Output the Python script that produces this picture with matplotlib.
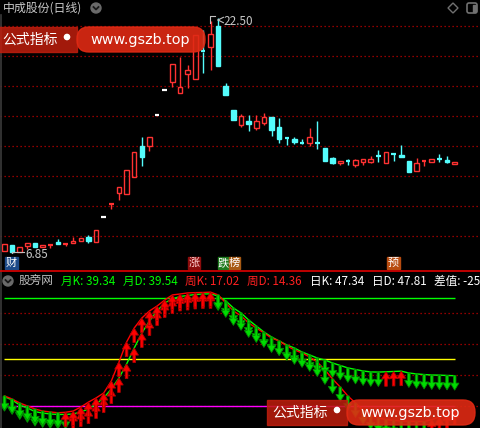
import matplotlib
matplotlib.use("Agg")
import matplotlib.pyplot as plt
from matplotlib.patches import Rectangle, Polygon, FancyBboxPatch, Circle

plt.rcParams['font.family'] = ['Noto Sans CJK SC', 'DejaVu Sans']

W, H = 480, 428

# daily candles
opens = [6.98, 7.38, 6.92, 7.32, 7.52, 7.25, 7.38, 7.58, 7.45, 7.52,
         7.65, 7.92, 7.58, 9.25, 10.11, 10.85, 10.78, 11.91, 13.98, 13.98,
         16.04, 17.70, 18.24, 17.50, 18.77, 18.44, 20.30, 20.57, 21.97, 17.97,
         16.37, 15.37, 15.64, 15.17, 15.51, 15.91, 15.24, 14.52, 14.44, 14.18,
         14.17, 14.18, 13.84, 13.18, 12.84, 12.99, 12.71, 12.91, 12.91, 13.33,
         12.84, 13.45, 13.38, 12.98, 12.31, 12.97, 12.91, 13.12, 13.04, 12.78]
highs = [7.48, 7.40, 7.28, 7.52, 7.52, 7.38, 7.45, 7.79, 7.52, 7.92,
         7.85, 8.05, 8.38, 9.25, 10.18, 11.24, 12.38, 13.58, 14.57, 14.57,
         16.04, 17.70, 19.44, 19.90, 19.37, 21.37, 21.70, 22.30, 22.50, 18.17,
         16.40, 16.11, 16.04, 16.04, 16.17, 15.91, 15.84, 14.57, 14.57, 14.44,
         15.17, 15.64, 13.84, 13.24, 12.98, 13.11, 13.11, 13.11, 13.31, 13.71,
         13.58, 13.45, 14.04, 12.98, 13.18, 12.99, 13.11, 13.44, 13.31, 12.91]
lows = [6.95, 6.85, 6.90, 7.11, 7.25, 7.25, 7.18, 7.45, 7.32, 7.52,
        7.65, 7.52, 7.58, 9.25, 9.78, 10.38, 10.78, 11.91, 12.64, 13.64,
        16.04, 17.70, 17.90, 17.50, 17.84, 18.44, 18.84, 19.04, 19.30, 17.37,
        15.68, 15.24, 14.97, 15.04, 15.37, 14.64, 14.17, 14.04, 14.11, 14.11,
        13.98, 13.78, 12.98, 12.78, 12.71, 12.71, 12.58, 12.71, 12.84, 12.91,
        12.84, 12.98, 13.24, 12.24, 12.31, 12.64, 12.91, 12.91, 12.84, 12.78]
closes = [7.45, 6.92, 7.25, 7.52, 7.25, 7.38, 7.43, 7.45, 7.50, 7.65,
          7.85, 7.65, 8.38, 9.25, 10.16, 11.24, 12.38, 13.58, 13.24, 14.57,
          16.04, 17.70, 19.44, 17.90, 19.04, 21.37, 20.26, 21.43, 19.30, 17.37,
          15.71, 15.97, 15.44, 15.64, 15.91, 15.04, 14.44, 14.50, 14.24, 14.16,
          14.57, 14.16, 12.98, 12.84, 12.96, 12.97, 13.04, 13.11, 13.11, 13.31,
          13.58, 13.43, 13.24, 12.24, 12.84, 12.99, 13.11, 13.10, 12.91, 12.91]
price_grid = [8, 10, 12, 14, 16, 18, 20, 22]

# indicator: monthly line (green) and weekly line (red)
month_k = [25.7, 23.6, 20.3, 18.4, 16.0, 15.1, 14.5, 14.2, 14.2, 14.5,
           15.8, 17.7, 21.0, 24.9, 30.7, 37.9, 46.9, 57.3, 67.1, 74.9,
           81.4, 86.6, 89.2, 90.8, 91.4, 92.1, 92.4, 92.5, 91.1, 87.9,
           83.3, 80.1, 75.5, 71.6, 67.7, 64.5, 61.9, 59.3, 57.3, 54.7,
           52.8, 50.8, 49.5, 47.6, 46.0, 44.4, 43.4, 42.4, 41.8, 41.7,
           41.9, 42.1, 42.3, 41.1, 40.5, 40.1, 39.8, 39.7, 39.5, 39.34]
week_k = [26.2, 24.2, 21.6, 19.7, 17.7, 16.4, 15.8, 15.3, 15.6, 16.4,
          19.0, 22.2, 24.9, 28.1, 35.9, 48.2, 61.2, 70.3, 76.8, 81.4,
          84.6, 88.5, 91.8, 92.4, 93.1, 93.3, 93.4, 93.6, 91.8, 86.6,
          81.4, 78.2, 73.6, 70.3, 67.1, 63.8, 61.9, 58.7, 56.1, 54.1,
          51.5, 48.2, 43.1, 37.2, 32.0, 26.2, 21.6, 17.1, 13.8, 11.9,
          10.9, 10.3, 9.9, 9.8, 9.7, 9.6, 10.8, 12.5, 14.7, 17.0]
ind_grid = [20, 40, 60, 80]
ind_levels = [(90, '#00ff00'), (50, '#ffff00'), (20, '#ff00ff')]

header = [("股旁网", 19, '#c0c0c0'),
          ("月K: 39.34", 61, '#00ff00'), ("月D: 39.54", 123, '#00ff00'),
          ("周K: 17.02", 185, '#ff2020'), ("周D: 14.36", 247, '#ff2020'),
          ("日K: 47.34", 310, '#ffffff'), ("日D: 47.81", 372, '#ffffff'),
          ("差值: -25.47", 434, '#ffffff')]

UP = '#ff3232'
DOWN = '#54fcfc'
n = len(opens)
X0, DX = 4.5, 7.63


def rect(x0, y0, x1, y1):
    return [x0 / W, 1 - y1 / H, (x1 - x0) / W, (y1 - y0) / H]


def price_at(y):
    return 22.50 - (y - 18) * 0.0666


def ind_at(y):
    return 50 - (y - 359.3) / 1.54


fig = plt.figure(figsize=(W / 100, H / 100), dpi=100, facecolor='black')
xlim = ((0 - X0) / DX, (W - X0) / DX)

# ---- price panel
ax = fig.add_axes(rect(0, 15, W, 268))
ax.set_facecolor('black')
ax.set_xlim(*xlim)
ax.set_ylim(price_at(268), price_at(15))
ax.axis('off')
for p in price_grid:
    ax.axhline(p, color='#c00000', lw=0.9, ls=(0, (1, 2.2)), zorder=1)

bw = 0.3
for i in range(n):
    o, h, l, c = opens[i], highs[i], lows[i], closes[i]
    if c > o:
        col = UP
    elif c < o:
        col = DOWN
    else:
        col = 'white'
    lo, hi = min(o, c), max(o, c)
    ax.vlines(i, l, lo, color=col, lw=1, zorder=2)
    ax.vlines(i, hi, h, color=col, lw=1, zorder=2)
    if hi - lo < 0.1:
        ax.hlines((o + c) / 2, i - bw, i + bw, color=col, lw=1.6, zorder=3)
    elif col == UP:
        ax.add_patch(Rectangle((i - bw, lo), 2 * bw, hi - lo, fill=False,
                               edgecolor=col, lw=1, zorder=3))
    else:
        ax.add_patch(Rectangle((i - bw, lo), 2 * bw, hi - lo, facecolor=col,
                               edgecolor=col, lw=1, zorder=3))

# ---- indicator panel
ax2 = fig.add_axes(rect(0, 290, W, H))
ax2.set_facecolor('black')
ax2.set_xlim(*xlim)
ax2.set_ylim(ind_at(H), ind_at(290))
ax2.axis('off')
for g in ind_grid:
    ax2.axhline(g, color='#c00000', lw=0.9, ls=(0, (1, 2.2)), zorder=1)
for lv, col in ind_levels:
    ax2.hlines(lv, 0, n - 1, color=col, lw=1, zorder=2)

xs = list(range(n))
ax2.plot(xs, month_k, color='#00ff00', lw=1, zorder=3)
ax2.plot(xs, week_k, color='#ff0000', lw=1, zorder=3)

# arrow size (x in bar units, y in indicator units)
hw, sw = 0.56, 0.17
hh, L = 4.6, 9.4


def arrow(x, v, up):
    if up:
        pts = [(x, v), (x + hw, v - hh), (x + sw, v - hh), (x + sw, v - L),
               (x - sw, v - L), (x - sw, v - hh), (x - hw, v - hh)]
        fc, ec = '#ff0000', '#b00000'
    else:
        pts = [(x - sw, v), (x + sw, v), (x + sw, v - L + hh),
               (x + hw, v - L + hh), (x, v - L), (x - hw, v - L + hh),
               (x - sw, v - L + hh)]
        fc, ec = '#00dc00', '#008800'
    ax2.add_patch(Polygon(pts, closed=True, facecolor=fc, edgecolor=ec,
                          lw=0.6, zorder=4))


for series in (month_k, week_k):
    for i in range(n):
        rising = i > 0 and series[i] > series[i - 1]
        arrow(i, series[i], rising)

# ---- overlay in pixel coordinates
ov = fig.add_axes([0, 0, 1, 1])
ov.set_xlim(0, W)
ov.set_ylim(H, 0)
ov.axis('off')
ov.patch.set_alpha(0)

ov.plot([0.5, 0.5], [15, H], color='#3a3a3a', lw=1.2)
ov.plot([0, W], [271, 271], color='#e00000', lw=1.2)

ov.text(3, 8, "中成股份(日线)", color='#c8c8c8', fontsize=8.6, va='center')
for cx, cy in ((96, 8), (8, 281)):
    ov.add_patch(Circle((cx, cy), 5, color='#6a6a6a'))
    ov.plot([cx - 2.5, cx, cx + 2.5], [cy - 1, cy + 1.5, cy - 1],
            color='#1a1a1a', lw=1.3)
ov.add_patch(Polygon([(453, 3), (458, 8), (453, 13), (448, 8)], closed=True,
                     fill=False, edgecolor='#707070', lw=1))
ov.add_patch(FancyBboxPatch((467, 3), 10, 10, boxstyle="round,pad=0,rounding_size=2",
                            fill=False, edgecolor='#707070', lw=1.2))
ov.add_patch(Rectangle((472.5, 4.5), 3, 7, color='#707070'))

for txt, x, col in header:
    ov.text(x, 281, txt, color=col, fontsize=8.4, va='center')

# price markers
ov.plot([210, 210, 215], [23, 16, 16], color='#c0c0c0', lw=0.8)
ov.annotate("", xy=(214, 20), xytext=(222, 20),
            arrowprops=dict(arrowstyle='->', color='#c0c0c0', lw=0.8))
ov.text(223, 21, "22.50", color='#c8c8c8', fontsize=8.4, va='center')
ov.plot([12, 12, 24], [253, 252, 252], color='#c0c0c0', lw=0.8)
ov.text(25, 255, "6.85", color='#c8c8c8', fontsize=8.4, va='center')

# event tags
tags = [("财", 5, 18, '#1c4a88', 'white'), ("涨", 188, 200, '#8c0c0c', '#ffd0d0'),
        ("跌", 218, 229, '#1e7a1e', 'white'), ("榜", 229, 240, '#a85a14', 'white'),
        ("预", 387, 400, '#b84c10', 'white')]
for t, x0, x1, bg, fg in tags:
    ov.add_patch(Rectangle((x0, 257), x1 - x0, 12, color=bg))
    ov.text((x0 + x1) / 2, 263, t, color=fg, fontsize=8, ha='center', va='center')


def watermark(x, y):
    ov.add_patch(Rectangle((x - 3, y), 80, 25, color='#c01e0e', alpha=0.85, zorder=5))
    ov.text(x + 2, y + 12.5, "公式指标", color='white', fontsize=10,
            ha='left', va='center', zorder=6)
    ov.add_patch(Circle((x + 67, y + 10), 2.6, color='white', zorder=6))
    ov.add_patch(FancyBboxPatch((x + 77, y), 128, 25,
                                boxstyle="round,pad=0,rounding_size=12",
                                color='#e02a14', alpha=0.9, zorder=5))
    ov.text(x + 140, y + 12.5, "www.gszb.top", color='white', fontsize=10.4,
            family='DejaVu Sans', ha='center', va='center', zorder=6)


watermark(0, 27)
watermark(270, 400)

fig.savefig("out.png", dpi=100, facecolor='black')
